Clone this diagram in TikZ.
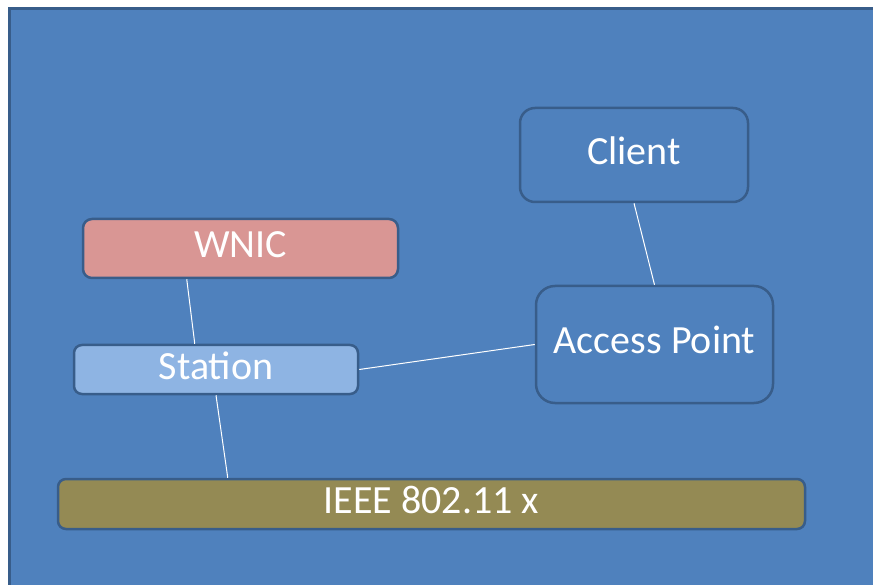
\documentclass[tikz,border=0pt]{standalone}
\usepackage{fontspec}
\setmainfont{Carlito}
\definecolor{bgblue}{HTML}{4F81BD}
\definecolor{edgeblue}{HTML}{385D8A}
\definecolor{wnicfill}{HTML}{D99694}
\definecolor{stafill}{HTML}{8EB4E3}
\definecolor{ieeefill}{HTML}{948A54}
\tikzset{
  box/.style={draw=edgeblue, line width=2.5pt, text=white, font=\fontsize{40}{44}\selectfont, inner sep=0pt, text height=26pt, text depth=7pt},
  link/.style={draw=white, line width=1pt}
}
\begin{document}
\begin{tikzpicture}[x=1pt,y=-1pt]
\useasboundingbox (0,0) rectangle (873,585);
\clip (0,0) rectangle (873,585);
\fill[white] (0,0) rectangle (873,585);
\draw[fill=bgblue, draw=edgeblue, line width=3pt] (9.5,8.5) rectangle (900,620);
\node[box, fill=wnicfill, minimum width=315pt, minimum height=59pt, rounded corners=9pt] (wnic) at (240.5,248.5) {WNIC};
\node[box, fill=stafill, minimum width=284pt, minimum height=49pt, rounded corners=8pt] (sta) at (216,369.5) {Station};
\node[box, fill=bgblue, minimum width=228pt, minimum height=94pt, rounded corners=15pt] (client) at (634,155) {Client};
\node[box, fill=bgblue, minimum width=237pt, minimum height=117pt, rounded corners=19pt] (ap) at (654.5,344.5) {Access Point};
\node[box, fill=ieeefill, minimum width=747pt, minimum height=50pt, rounded corners=8pt] (ieee) at (431.5,504) {IEEE 802.11 x};
\draw[link] ([xshift=105pt]wnic.south west) -- ([xshift=122pt]sta.north west);
\draw[link] (sta.south) -- ([xshift=171pt]ieee.north west);
\draw[link] (sta.east) -- (ap.west);
\draw[link] (client.south) -- (ap.north);
\end{tikzpicture}
\end{document}
